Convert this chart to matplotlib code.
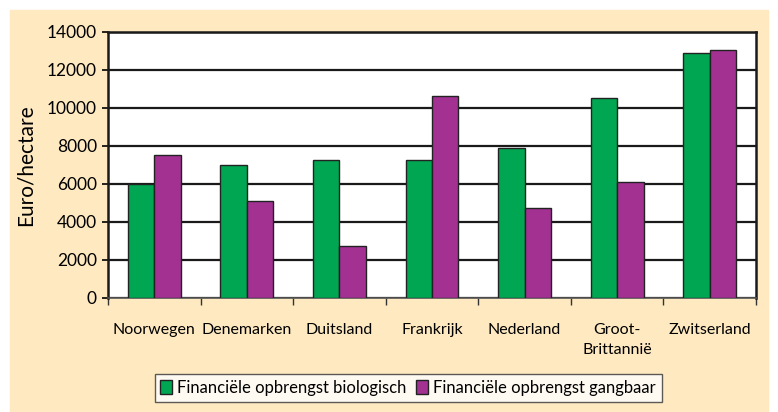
import matplotlib

matplotlib.use("Agg")
import matplotlib.pyplot as plt
import numpy as np
from matplotlib.patches import Rectangle

plt.rcParams["font.family"] = ["Lato", "DejaVu Sans"]

countries = ["Noorwegen", "Denemarken", "Duitsland", "Frankrijk",
             "Nederland", "Groot-\nBrittannië", "Zwitserland"]
biologisch = [6000, 7000, 7250, 7270, 7880, 10500, 12920]
gangbaar = [7550, 5100, 2750, 10620, 4720, 6080, 13060]
series_labels = ["Financiële opbrengst biologisch", "Financiële opbrengst gangbaar"]
yticks = [0, 2000, 4000, 6000, 8000, 10000, 12000, 14000]

green = "#00A651"
purple = "#A33192"
beige = "#FEE9C1"

fig = plt.figure(figsize=(7.78, 4.12), dpi=100)
fig.patches.append(Rectangle((10 / 778, 0), 758 / 778, 1 - 10 / 412,
                             transform=fig.transFigure, color=beige, zorder=-10))

ax = fig.add_axes([108 / 778, 1 - 298 / 412, 648 / 778, 266 / 412])
ax.set_facecolor("white")

x = np.arange(len(countries))
w = 0.285
ax.bar(x - w / 2, biologisch, w, color=green, edgecolor="#222222", linewidth=1.0,
       label=series_labels[0], zorder=3)
ax.bar(x + w / 2, gangbaar, w, color=purple, edgecolor="#222222", linewidth=1.0,
       label=series_labels[1], zorder=3)

ax.set_xlim(-0.5, len(countries) - 0.5)
ax.set_ylim(0, 14000)
ax.set_yticks(yticks)
ax.set_yticklabels([str(v) for v in yticks], fontsize=12.5)
ax.yaxis.grid(True, color="#1a1a1a", linewidth=1.6, zorder=0)
ax.set_axisbelow(True)

ax.set_xticks(x)
ax.set_xticklabels(countries, fontsize=11.5, linespacing=1.5)
ax.tick_params(axis="x", length=0, pad=18)
ax.set_xticks(np.arange(-0.5, len(countries)), minor=True)
ax.tick_params(axis="x", which="minor", length=5, width=1, color="#333333", direction="out")
ax.tick_params(axis="y", length=4, width=1.2, direction="out", pad=4)

for side in ["left", "right", "top"]:
    ax.spines[side].set_linewidth(1.8)
    ax.spines[side].set_color("#1a1a1a")
ax.spines["bottom"].set_linewidth(1.2)
ax.spines["bottom"].set_color("#555555")

ax.set_ylabel("Euro/hectare", fontsize=15, labelpad=8)

leg = fig.legend(loc="center", bbox_to_anchor=(408 / 778, 1 - 388 / 412), ncol=2,
                 fontsize=12, frameon=True, fancybox=False, handlelength=0.7,
                 handleheight=0.9, handletextpad=0.3, columnspacing=0.6,
                 borderpad=0.35)
leg.get_frame().set_edgecolor("#333333")
leg.get_frame().set_linewidth(1.0)

fig.savefig("out.png", dpi=100, facecolor="white")
